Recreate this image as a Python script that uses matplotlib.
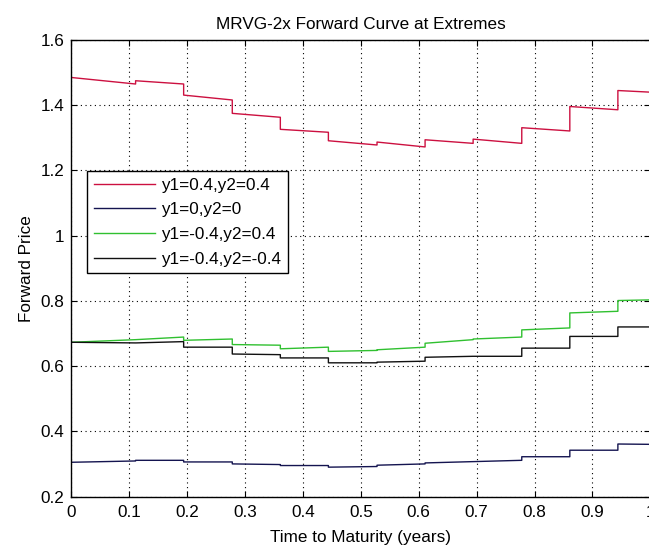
import numpy as np
import matplotlib
matplotlib.use("Agg")
import matplotlib.pyplot as plt

plt.rcParams['font.family'] = ['Liberation Sans', 'DejaVu Sans']

# month boundaries where the forward curve steps
edges = [0.0, 0.111, 0.194, 0.278, 0.361, 0.444, 0.528, 0.611, 0.694, 0.778, 0.861, 0.944, 1.0]

# value at start / end of each segment
red_start = [1.485, 1.475, 1.431, 1.375, 1.326, 1.291, 1.287, 1.294, 1.296, 1.331, 1.396, 1.445]
red_end = [1.465, 1.465, 1.416, 1.363, 1.317, 1.278, 1.272, 1.283, 1.283, 1.321, 1.386, 1.440]

blk0_start = [0.305, 0.311, 0.306, 0.300, 0.295, 0.290, 0.296, 0.303, 0.307, 0.322, 0.342, 0.361]
blk0_end = [0.309, 0.311, 0.306, 0.298, 0.295, 0.292, 0.300, 0.307, 0.311, 0.322, 0.342, 0.360]

grn_start = [0.673, 0.681, 0.679, 0.666, 0.653, 0.645, 0.650, 0.670, 0.683, 0.711, 0.763, 0.801]
grn_end = [0.681, 0.689, 0.683, 0.664, 0.658, 0.648, 0.658, 0.681, 0.689, 0.717, 0.768, 0.803]

blk1_start = [0.673, 0.671, 0.658, 0.637, 0.625, 0.610, 0.612, 0.627, 0.630, 0.655, 0.691, 0.720]
blk1_end = [0.671, 0.675, 0.658, 0.635, 0.625, 0.610, 0.615, 0.630, 0.630, 0.655, 0.691, 0.720]

labels = ['y1=0.4,y2=0.4', 'y1=0,y2=0', 'y1=-0.4,y2=0.4', 'y1=-0.4,y2=-0.4']


def step_curve(starts, ends):
    xs, ys = [], []
    for i in range(len(starts)):
        xs += [edges[i], edges[i + 1]]
        ys += [starts[i], ends[i]]
    return xs, ys


fig = plt.figure(figsize=(6.49, 5.47), dpi=100)
ax = fig.add_axes([0.1099, 0.0923, 0.8921, 0.8346])

series = [(red_start, red_end, '#cc1040'),
          (blk0_start, blk0_end, '#141450'),
          (grn_start, grn_end, '#30c030'),
          (blk1_start, blk1_end, '#111111')]
for (s, e, c), lab in zip(series, labels):
    xs, ys = step_curve(s, e)
    ax.plot(xs, ys, color=c, lw=1.0, label=lab)

ax.set_xlim(0, 1)
ax.set_ylim(0.2, 1.6)
ax.set_xticks(np.arange(0, 1.01, 0.1))
ax.set_xticklabels(['0', '0.1', '0.2', '0.3', '0.4', '0.5', '0.6', '0.7', '0.8', '0.9', '1'])
ax.set_yticks(np.arange(0.2, 1.61, 0.2))
ax.set_yticklabels(['0.2', '0.4', '0.6', '0.8', '1', '1.2', '1.4', '1.6'])
ax.tick_params(direction='in', top=True, right=True, labelsize=12.3, length=4)
ax.tick_params(axis='x', pad=6)
ax.tick_params(axis='y', pad=5)
ax.grid(True, color='black', lw=0.8, linestyle=(0, (1, 3.2)))
for sp in ax.spines.values():
    sp.set_linewidth(1.0)

ax.set_title('MRVG-2x Forward Curve at Extremes', fontsize=12.3, pad=8)
ax.set_xlabel('Time to Maturity (years)', fontsize=12.3, labelpad=7)
ax.set_ylabel('Forward Price', fontsize=12.3, labelpad=5)

leg = ax.legend(loc='upper left', bbox_to_anchor=(0.027, 0.713), fontsize=12.3,
                handlelength=3.6, fancybox=False, framealpha=1, edgecolor='black',
                borderaxespad=0, labelspacing=0.56, handletextpad=0.35, borderpad=0.4)
leg.get_frame().set_linewidth(1.0)

fig.savefig('out.png', dpi=100)
